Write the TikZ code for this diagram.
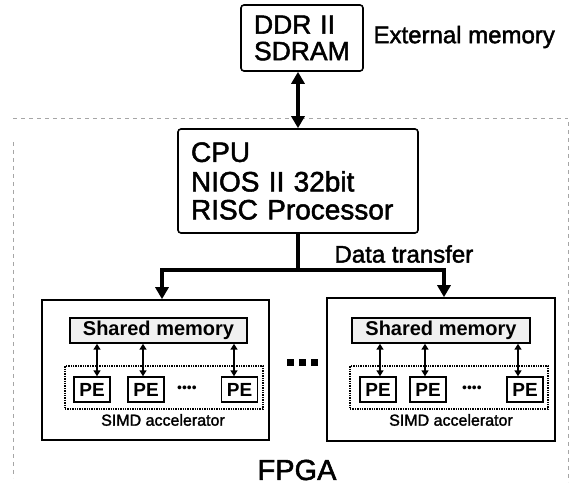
\documentclass[tikz,border=0pt]{standalone}
\usepackage{fontspec}
\setmainfont{Liberation Sans}
\newfontface\heavy{Liberation Sans}[FakeBold=1.8]
\usetikzlibrary{arrows.meta}

\tikzset{
  fs/.style={font=\fontsize{#1}{#1}\selectfont\heavy},
  membox/.style={draw, line width=1.6pt, rounded corners=3pt, inner sep=0pt,
                 align=left, text width=#1},
  accbox/.style={draw, line width=1.6pt, inner sep=0pt},
  shmbox/.style={draw, line width=1.5pt, fill=gray!12, inner sep=0pt,
                 minimum height=25pt, font=\fontsize{20}{20}\selectfont\bfseries},
  simdbox/.style={draw, line width=1.4pt, densely dotted, inner sep=0pt},
  pebox/.style={draw, line width=1.4pt, inner sep=0pt, minimum width=36pt,
                minimum height=25pt, font=\fontsize{19}{19}\selectfont\bfseries},
  busline/.style={line width=4pt, line join=miter},
  bigtips/.style={{Triangle[length=12pt,width=13pt]}-{Triangle[length=12pt,width=13pt]}},
  pelink/.style={line width=2pt, {Triangle[length=6pt,width=7pt]}-{Triangle[length=6pt,width=7pt]}},
  border/.style={line width=0.8pt, gray!70, dash pattern=on 4pt off 4pt},
  sq/.style={fill=black, inner sep=0pt, minimum size=7pt},
  pedots/.style={font=\fontsize{14}{14}\selectfont},
}

\begin{document}
\begin{tikzpicture}[x=1pt, y=-1pt]
\useasboundingbox (0,0) rectangle (574,489);

% FPGA boundary
\draw[border] (13,118) -- (568,118);
\draw[border] (13,142) -- (13,478);
\draw[border] (568,122) -- (568,482);

% external memory and processor
\node[membox=96pt, minimum width=122pt, minimum height=66pt, fs=26.5]
  (ddr) at (302,38) {\baselineskip=28pt DDR II\\SDRAM};
\node[anchor=west, fs=24] (ext) at (370,37) {External memory};

\node[membox=214pt, minimum width=240pt, minimum height=104pt, fs=28]
  (cpu) at (298,181) {\baselineskip=29.5pt CPU\\NIOS II 32bit\\RISC Processor};

\draw[busline, bigtips] (cpu.north |- ddr.south) -- (cpu.north);

% accelerator blocks
\node[accbox, minimum width=227pt, minimum height=140pt] (accL) at (155.5,370) {};
\node[accbox, minimum width=228pt, minimum height=143pt] (accR) at (441,369.5) {};

% data transfer bus
\coordinate (busL) at (162,270);
\coordinate (busR) at (444,270);
\draw[busline] (cpu.south) -- (cpu.south |- busL);
\draw[busline, bigtips] (busL |- accL.north) -- (busL) -- (busR) -- (busR |- accR.north);
\node[anchor=west, fs=24] (dt) at (331,254) {Data transfer};

% left accelerator contents
\node[shmbox, minimum width=177pt] (shmL) at (158.5,330.5) {Shared memory};
\node[simdbox, minimum width=198pt, minimum height=43pt] (simdL) at (164,387.5) {};
\node[pebox] (peL1) at (92,389.5) {PE};
\node[pebox] (peL2) at (146,389.5) {PE};
\node[pebox] (peL3) at (239.5,389.5) {PE};
\node[pedots] (dotsL) at (187,389) {••••};
\node[fs=16] (labL) at (163,420) {SIMD accelerator};
\draw[pelink] ([xshift=5pt]peL1.north |- shmL.south) -- ([xshift=5pt]peL1.north);
\draw[pelink] ([xshift=-3pt]peL2.north |- shmL.south) -- ([xshift=-3pt]peL2.north);
\draw[pelink] ([xshift=-5.5pt]peL3.north |- shmL.south) -- ([xshift=-5.5pt]peL3.north);

% right accelerator contents
\node[shmbox, minimum width=178pt] (shmR) at (441,330.5) {Shared memory};
\node[simdbox, minimum width=198pt, minimum height=43pt] (simdR) at (449,387.5) {};
\node[pebox] (peR1) at (378,389.5) {PE};
\node[pebox] (peR2) at (428,389.5) {PE};
\node[pebox] (peR3) at (525,389.5) {PE};
\node[pedots] (dotsR) at (472,389) {••••};
\node[fs=16] (labR) at (451,420) {SIMD accelerator};
\draw[pelink] ([xshift=2pt]peR1.north |- shmR.south) -- ([xshift=2pt]peR1.north);
\draw[pelink] ([xshift=-3pt]peR2.north |- shmR.south) -- ([xshift=-3pt]peR2.north);
\draw[pelink] ([xshift=-7pt]peR3.north |- shmR.south) -- ([xshift=-7pt]peR3.north);

% ellipsis between the blocks
\node[sq] (sq1) at (290.5,363) {};
\node[sq] (sq2) at (302.5,363) {};
\node[sq] (sq3) at (314.5,363) {};

\node[fs=29] (fpga) at (297,470) {FPGA};
\end{tikzpicture}
\end{document}
